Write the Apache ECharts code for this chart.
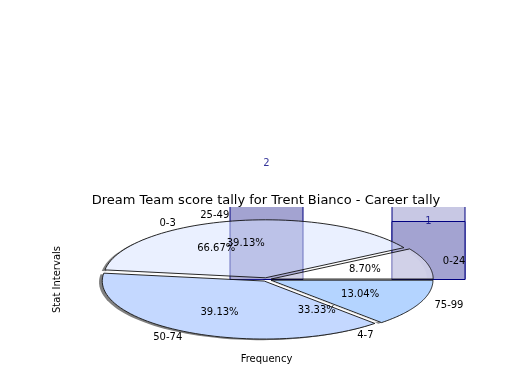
<!DOCTYPE html>
<html><head><meta charset="utf-8">
<script src="https://cdn.jsdelivr.net/npm/echarts@6/dist/echarts.min.js"></script>
<style>html,body{margin:0;padding:0;background:#fff}#c{width:520px;height:390px}</style>
</head><body><div id="c"></div>
<script>
const chartTitle = 'Dream Team score tally for Trent Bianco - Career tally';
const xAxisName = 'Frequency';
const yAxisName = 'Stat Intervals';
const barPositions = [0, 1];
const barValues = [2, 1];
const backBarPositions = [1];
const backBarValues = [2];
const pie1Labels = ['0-3', '4-7'];
const pie1Values = [2, 1];
const pie2Labels = ['0-24', '25-49', '50-74', '75-99'];
const pie2Values = [2, 9, 9, 3];

const FONT = 'DejaVu Sans, sans-serif';
const AX_MIN = -1.25, AX_MAX = 1.25;
const pie1Colors = ['rgba(255,255,255,0.1)', 'rgba(255,255,255,0.1)'];
const pie2Colors = ['rgba(255,255,255,0.45)', 'rgba(208,221,255,0.45)', 'rgba(124,168,255,0.45)', 'rgba(88,160,255,0.45)'];
const shadowColors = ['#808080', '#808080', '#808080', '#808080'];

function wedgeInfo(values, i) {
  const total = values.reduce((a, b) => a + b, 0);
  let before = 0;
  for (let k = 0; k < i; k++) before += values[k];
  const a0 = before / total * 2 * Math.PI;
  const a1 = (before + values[i]) / total * 2 * Math.PI;
  return { a0, a1, mid: (a0 + a1) / 2, frac: values[i] / total };
}

function arcPoints(api, cx, cy, a0, a1, r) {
  const pts = [];
  const n = 60;
  for (let k = 0; k <= n; k++) {
    const t = a0 + (a1 - a0) * k / n;
    pts.push(api.coord([cx + r * Math.cos(t), cy + r * Math.sin(t)]));
  }
  return pts;
}

function pieFill(values, colors, explode, stroke, z, dx, dy) {
  dx = dx || 0; dy = dy || 0;
  return {
    type: 'custom', z: z, silent: true,
    data: values.map(() => [0, 0]),
    renderItem: function (params, api) {
      const w = wedgeInfo(values, params.dataIndex);
      const cx = explode * Math.cos(w.mid) + dx, cy = explode * Math.sin(w.mid) + dy;
      const pts = [api.coord([cx, cy])].concat(arcPoints(api, cx, cy, w.a0, w.a1, 1));
      return {
        type: 'polygon', shape: { points: pts },
        style: { fill: colors[params.dataIndex],
                 stroke: stroke ? '#111111' : null, lineWidth: stroke ? 0.9 : 0 }
      };
    }
  };
}

// opaque white under-layer covering the whole pie footprint (hides shadow inside pie)
function pieCover(values, explode, z) {
  return {
    type: 'custom', z: z, silent: true,
    data: values.map(() => [0, 0]),
    renderItem: function (params, api) {
      const w = wedgeInfo(values, params.dataIndex);
      const cx = explode * Math.cos(w.mid), cy = explode * Math.sin(w.mid);
      const ex = [api.coord([cx, cy])].concat(arcPoints(api, cx, cy, w.a0, w.a1, 1));
      const un = [api.coord([0, 0])].concat(arcPoints(api, 0, 0, w.a0, w.a1, 1));
      return { type: 'group', children: [
        { type: 'polygon', shape: { points: un }, style: { fill: '#ffffff' } },
        { type: 'polygon', shape: { points: ex }, style: { fill: '#ffffff' } }
      ] };
    }
  };
}

function pieLabels(labels, values, explode, z) {
  return {
    type: 'custom', z: z, silent: true,
    data: values.map(() => [0, 0]),
    renderItem: function (params, api) {
      const i = params.dataIndex;
      const w = wedgeInfo(values, i);
      const cx = explode * Math.cos(w.mid), cy = explode * Math.sin(w.mid);
      const lx = cx + 1.1 * Math.cos(w.mid), ly = cy + 1.1 * Math.sin(w.mid);
      const px = cx + 0.6 * Math.cos(w.mid), py = cy + 0.6 * Math.sin(w.mid);
      const lp = api.coord([lx, ly]), pp = api.coord([px, py]);
      return {
        type: 'group', children: [
          { type: 'text', x: lp[0], y: lp[1],
            style: { text: labels[i], fill: '#000', fontSize: 10, fontFamily: FONT,
                     align: lx > 0 ? 'left' : 'right', verticalAlign: 'middle' } },
          { type: 'text', x: pp[0], y: pp[1],
            style: { text: (w.frac * 100).toFixed(2) + '%', fill: '#000', fontSize: 10, fontFamily: FONT,
                     align: 'center', verticalAlign: 'middle' } }
        ]
      };
    }
  };
}

// bars drawn through the axes, clipped at the top of the plot area without a closing edge
function barSeries(positions, values, color, z) {
  return {
    type: 'custom', z: z, silent: true,
    data: positions.map((x, i) => [x, values[i]]),
    renderItem: function (params, api) {
      const x = api.value(0), v = api.value(1);
      const half = 36.5;
      const base = api.coord([x, 0]);
      const clipped = v > AX_MAX;
      const top = api.coord([x, Math.min(v, AX_MAX)]);
      const l = base[0] - half, r = base[0] + half;
      const edge = clipped
        ? [[l, top[1]], [l, base[1]], [r, base[1]], [r, top[1]]]
        : [[l, top[1]], [l, base[1]], [r, base[1]], [r, top[1]], [l, top[1]]];
      return { type: 'group', children: [
        { type: 'rect', shape: { x: l, y: top[1], width: r - l, height: base[1] - top[1] },
          style: { fill: color } },
        { type: 'polyline', shape: { points: edge },
          style: { stroke: '#000080', lineWidth: 1, fill: null } }
      ] };
    }
  };
}

const chart = echarts.init(document.getElementById('c'), null, { renderer: 'canvas' });
chart.setOption({
  animation: false,
  backgroundColor: '#ffffff',
  title: {
    text: chartTitle, left: 261, top: 189, textAlign: 'center',
    textStyle: { fontFamily: FONT, fontSize: 13, fontWeight: 'normal', color: '#000' }
  },
  grid: { left: 64, top: 207, width: 405, height: 145, containLabel: false },
  xAxis: {
    type: 'value', min: AX_MIN, max: AX_MAX,
    axisLine: { show: false }, axisTick: { show: false }, axisLabel: { show: false }, splitLine: { show: false },
    name: xAxisName, nameLocation: 'middle', nameGap: 2,
    nameTextStyle: { fontFamily: FONT, fontSize: 10, color: '#000' }
  },
  yAxis: {
    type: 'value', min: AX_MIN, max: AX_MAX,
    axisLine: { show: false }, axisTick: { show: false }, axisLabel: { show: false }, splitLine: { show: false },
    name: yAxisName, nameLocation: 'middle', nameGap: 2, nameRotate: 90,
    nameTextStyle: { fontFamily: FONT, fontSize: 10, color: '#000' }
  },
  series: [
    pieFill(pie2Values, shadowColors, 0.03, false, 0, -0.02, -0.02),
    pieCover(pie2Values, 0.03, 0.5),
    barSeries(backBarPositions, backBarValues, '#c8c8e4', 1),
    barSeries(barPositions, barValues, '#a3a3d1', 2),
    pieFill(pie1Values, pie1Colors, 0.02, false, 4),
    pieFill(pie2Values, pie2Colors, 0.03, true, 5),
    pieLabels(pie1Labels, pie1Values, 0.02, 6),
    pieLabels(pie2Labels, pie2Values, 0.03, 6),
    { type: 'scatter', z: 7, clip: false, symbolSize: 0, silent: true,
      data: barPositions.map((x, i) => [x, barValues[i]]),
      label: { show: true, position: 'inside', offset: [0, 0], formatter: p => String(p.value[1]),
               color: '#000080', fontSize: 10, fontFamily: FONT } }
  ]
});
</script>
</body></html>
